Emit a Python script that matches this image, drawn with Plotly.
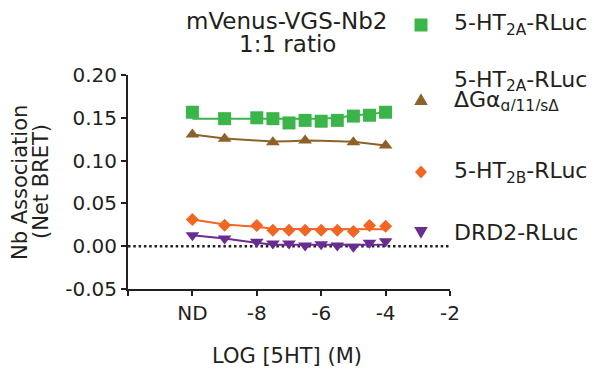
import plotly.graph_objects as go

# ---------------- data ----------------
x_pts = [-10, -9, -8, -7.5, -7, -6.5, -6, -5.5, -5, -4.5, -4]
x_tri = [-10, -9, -7.5, -6.5, -5, -4]

ht2a = [0.1565, 0.149, 0.150, 0.149, 0.144, 0.147, 0.146, 0.147, 0.152, 0.153, 0.1565]
ht2a_dg = [0.1305, 0.1255, 0.1215, 0.1235, 0.1215, 0.1176]
ht2b = [0.0312, 0.0245, 0.0242, 0.0187, 0.0187, 0.0187, 0.0187, 0.0187, 0.0172, 0.0242, 0.0234]
drd2 = [0.0129, 0.009, 0.0051, 0.0032, 0.0032, 0.0008, 0.0023, 0.0008, -0.0007, 0.004, 0.0058]

# fitted curves
x_fit = [-10, -9, -8, -7.5, -7, -6.5, -6, -5.5, -5, -4.5, -4]
fit_ht2a = [0.1488, 0.1488, 0.1488, 0.1488, 0.1484, 0.1484, 0.1488, 0.150, 0.1527, 0.1543, 0.1566]
fit_ht2b = [0.0312, 0.0253, 0.0226, 0.0203, 0.0200, 0.0199, 0.0199, 0.0199, 0.0199, 0.0199, 0.0199]
fit_drd2 = [0.0129, 0.009, 0.004, 0.0016, 0.0016, 0.0016, 0.0016, 0.0016, 0.0016, 0.0016, 0.0016]
x_fit_dg = [-10, -9, -8, -7.5, -7, -6.5, -6, -5, -4]
fit_ht2a_dg = [0.1305, 0.1258, 0.1235, 0.1223, 0.1227, 0.1235, 0.1231, 0.122, 0.1176]

x_tickvals = [-12, -10, -8, -6, -4, -2]
x_ticktext = ["", "ND", "-8", "-6", "-4", "-2"]
y_tickvals = [-0.05, 0.0, 0.05, 0.10, 0.15, 0.20]
y_ticktext = ["-0.05", "0.00", "0.05", "0.10", "0.15", "0.20"]

legend_lines = [
    "5-HT<sub>2A</sub>-RLuc",
    "5-HT<sub>2A</sub>-RLuc",
    "ΔGα<sub>q/11/sΔ</sub>",
    "5-HT<sub>2B</sub>-RLuc",
    "DRD2-RLuc",
]

GREEN = "#3bb54a"
BROWN = "#8c6229"
ORANGE = "#f26522"
PURPLE = "#6b2c91"
INK = "#231f20"
FONT = "DejaVu Sans"

# plot-area geometry (pixels)
L, R, T, B = 128, 450, 75, 289
W, H = 594, 373


def px_x(p):
    return (p - L) / (R - L)


def px_y(p):
    return (B - p) / (B - T)


fig = go.Figure()

# fit lines
for xs, ys, c in [(x_fit, fit_ht2a, GREEN), (x_fit_dg, fit_ht2a_dg, BROWN),
                  (x_fit, fit_ht2b, ORANGE), (x_fit, fit_drd2, PURPLE)]:
    fig.add_trace(go.Scatter(x=xs, y=ys, mode="lines", line=dict(color=c, width=2),
                             showlegend=False, hoverinfo="skip"))

# markers
series = [
    (x_pts, ht2a, GREEN, "square", 13),
    (x_tri, ht2a_dg, BROWN, "triangle-up", 12),
    (x_pts, ht2b, ORANGE, "diamond", 10),
    (x_pts, drd2, PURPLE, "triangle-down", 12),
]
for i, (xs, ys, c, sym, sz) in enumerate(series):
    fig.add_trace(go.Scatter(x=xs, y=ys, mode="markers", showlegend=False,
                             marker=dict(color=c, symbol=sym, size=sz, line=dict(width=0))))

# zero dotted line
fig.add_shape(type="line", xref="paper", x0=0, x1=1, yref="y", y0=0, y1=0,
              line=dict(color=INK, width=2.5, dash="2.5px,2.8px"), layer="below")

# legend key glyphs (pixel-sized paths, positive y = up)
key_paths = [
    "M-6.5,-6.5 L6.5,-6.5 L6.5,6.5 L-6.5,6.5 Z",
    "M-6.8,-5 L6.8,-5 L0,6.8 Z",
    "M0,-6.5 L6,0 L0,6.5 L-6,0 Z",
    "M-6.8,5 L6.8,5 L0,-6.8 Z",
]
key_y_px = [25, 100, 172, 232]
for (xs, ys, c, sym, sz), pth, kp in zip(series, key_paths, key_y_px):
    fig.add_shape(type="path", xref="paper", yref="paper", xsizemode="pixel", ysizemode="pixel",
                  xanchor=px_x(421), yanchor=px_y(kp), path=pth,
                  fillcolor=c, line=dict(width=0))

ann = []


def text_at(t, xp, yp, anchor="center", angle=0, size=21, h=None):
    d = dict(text=t, xref="paper", yref="paper", x=xp, y=yp, xanchor=anchor,
             yanchor="middle", textangle=angle, showarrow=False,
             font=dict(family=FONT, size=size, color=INK))
    if h is not None:
        d["height"] = h
    ann.append(d)


text_at("mVenus-VGS-Nb2", px_x(287), px_y(21), size=23, h=22)
text_at("1:1 ratio", px_x(287), px_y(44), size=23, h=22)
text_at("LOG [5HT] (M)", px_x(287), px_y(356))
text_at("Nb Association", px_x(20), px_y(182), angle=-90)
text_at("(Net BRET)", px_x(41), px_y(182), angle=-90)

leg_y_px = [24, 81, 101, 172, 232]
leg_h = [None, 20, 20, None, None]
for t, yp, hh in zip(legend_lines, leg_y_px, leg_h):
    text_at(t, px_x(452), px_y(yp), anchor="left", size=22, h=hh)

fig.update_layout(
    width=W, height=H,
    margin=dict(l=L, r=W - R, t=T, b=H - B, autoexpand=False),
    paper_bgcolor="white", plot_bgcolor="white",
    font=dict(family=FONT, size=20, color=INK),
    showlegend=False,
    xaxis=dict(range=[-12, -2], tickvals=x_tickvals, ticktext=x_ticktext,
               showgrid=False, zeroline=False, showline=True, linecolor=INK, linewidth=2,
               ticks="outside", ticklen=5, tickwidth=2, tickcolor=INK,
               tickfont=dict(size=20), automargin=False),
    yaxis=dict(range=[-0.05, 0.20], tickvals=y_tickvals, ticktext=y_ticktext,
               showgrid=False, zeroline=False, showline=True, linecolor=INK, linewidth=2,
               ticks="outside", ticklen=5, tickwidth=2, tickcolor=INK,
               tickfont=dict(size=20), automargin=False),
    annotations=ann,
)

fig.write_html("out.html", config={"displayModeBar": False},
               post_script="document.body.style.margin='0';")
